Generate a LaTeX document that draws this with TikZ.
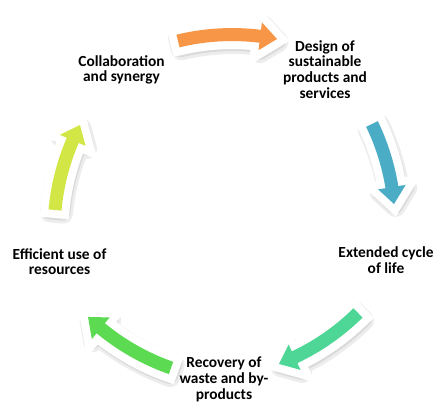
\documentclass[tikz,border=0pt]{standalone}
\usepackage{fontspec}
\setmainfont{Carlito}
\definecolor{corange}{HTML}{F79646}
\definecolor{cblue}{HTML}{4BACC6}
\definecolor{cteal}{HTML}{4DD696}
\definecolor{cgreen}{HTML}{5CDB52}
\definecolor{cyellow}{HTML}{D2E646}
\def\cyR{230}\def\cyBW{6.5}\def\cyHW{14}\def\cyHL{17}
\tikzset{
  lbl/.style={font=\fontsize{15.4}{15.8}\selectfont\bfseries, align=center, anchor=base, inner sep=0pt},
  arrshadow/.style={fill=black, draw=black, opacity=0.07, line width=20pt, line join=round},
  arrshadowb/.style={fill=black, draw=black, opacity=0.08, line width=16pt, line join=round},
  arrwhite/.style={fill=white, draw=white, line width=16pt, line join=miter},
}
\newcommand\cycarrow[5]{%
\begin{scope}
\pgfmathsetmacro\cyqsx{#1}\pgfmathsetmacro\cyqsy{403-#2}%
\pgfmathsetmacro\cyqtx{#3}\pgfmathsetmacro\cyqty{403-#4}%
\pgfmathsetmacro\cyqdx{\cyqtx-\cyqsx}\pgfmathsetmacro\cyqdy{\cyqty-\cyqsy}%
\pgfmathsetmacro\cyqL{veclen(\cyqdx,\cyqdy)}%
\pgfmathsetmacro\cyqux{\cyqdx/\cyqL}\pgfmathsetmacro\cyquy{\cyqdy/\cyqL}%
\pgfmathsetmacro\cyqh{\cyR*sqrt(1-(\cyqL/(2*\cyR))^2)}%
\pgfmathsetmacro\cyqcx{(\cyqsx+\cyqtx)/2+\cyqh*\cyquy}%
\pgfmathsetmacro\cyqcy{(\cyqsy+\cyqty)/2-\cyqh*\cyqux}%
\pgfmathsetmacro\cyqaT{atan2(\cyqty-\cyqcy,\cyqtx-\cyqcx)}%
\pgfmathsetmacro\cyqaSr{atan2(\cyqsy-\cyqcy,\cyqsx-\cyqcx)}%
\pgfmathsetmacro\cyqaS{\cyqaT+mod(\cyqaSr-\cyqaT+720,360)}%
\pgfmathsetmacro\cyqaB{\cyqaT+\cyHL/\cyR*57.2958}%
\pgfmathsetmacro\cyqro{\cyR+\cyBW}\pgfmathsetmacro\cyqri{\cyR-\cyBW}%
\pgfmathsetmacro\cyqho{\cyR+\cyHW}\pgfmathsetmacro\cyqhi{\cyR-\cyHW}%
\def\arrowshape{(\cyqaS:\cyqro pt) arc[start angle=\cyqaS, end angle=\cyqaB, radius=\cyqro pt] -- (\cyqaB:\cyqho pt) -- (\cyqaT:\cyR pt) -- (\cyqaB:\cyqhi pt) -- (\cyqaB:\cyqri pt) arc[start angle=\cyqaB, end angle=\cyqaS, radius=\cyqri pt] -- cycle}%
\begin{scope}[shift={(\cyqcx,\cyqcy)}]
  \filldraw[arrshadow, shift={(1.5,-3)}] \arrowshape;
  \filldraw[arrshadowb, shift={(1,-2)}] \arrowshape;
  \filldraw[arrwhite] \arrowshape;
  \fill[#5] \arrowshape;
\end{scope}
\end{scope}}
\begin{document}
\begin{tikzpicture}[x=1pt, y=1pt]
\useasboundingbox (0,0) rectangle (436,403);
\fill[white] (0,0) rectangle (436,403);
\cycarrow{178}{41}{277}{39}{corange}
\cycarrow{372}{124}{394}{204}{cblue}
\cycarrow{358}{313}{279}{364}{cteal}
\cycarrow{171}{368}{88}{317}{cgreen}
\cycarrow{55}{210}{80}{125}{cyellow}
\node[lbl] (design) at (325, 304.5) {Design of\\sustainable\\products and\\services};
\node[lbl] (extended) at (386, 129.5) {Extended cycle\\of life};
\node[lbl] (recovery) at (224, 3.6) {Recovery of\\waste and by-\\products};
\node[lbl] (efficient) at (59.5, 128) {Efficient use of\\resources};
\node[lbl] (collab) at (121.5, 321) {Collaboration\\and synergy};
\end{tikzpicture}
\end{document}
